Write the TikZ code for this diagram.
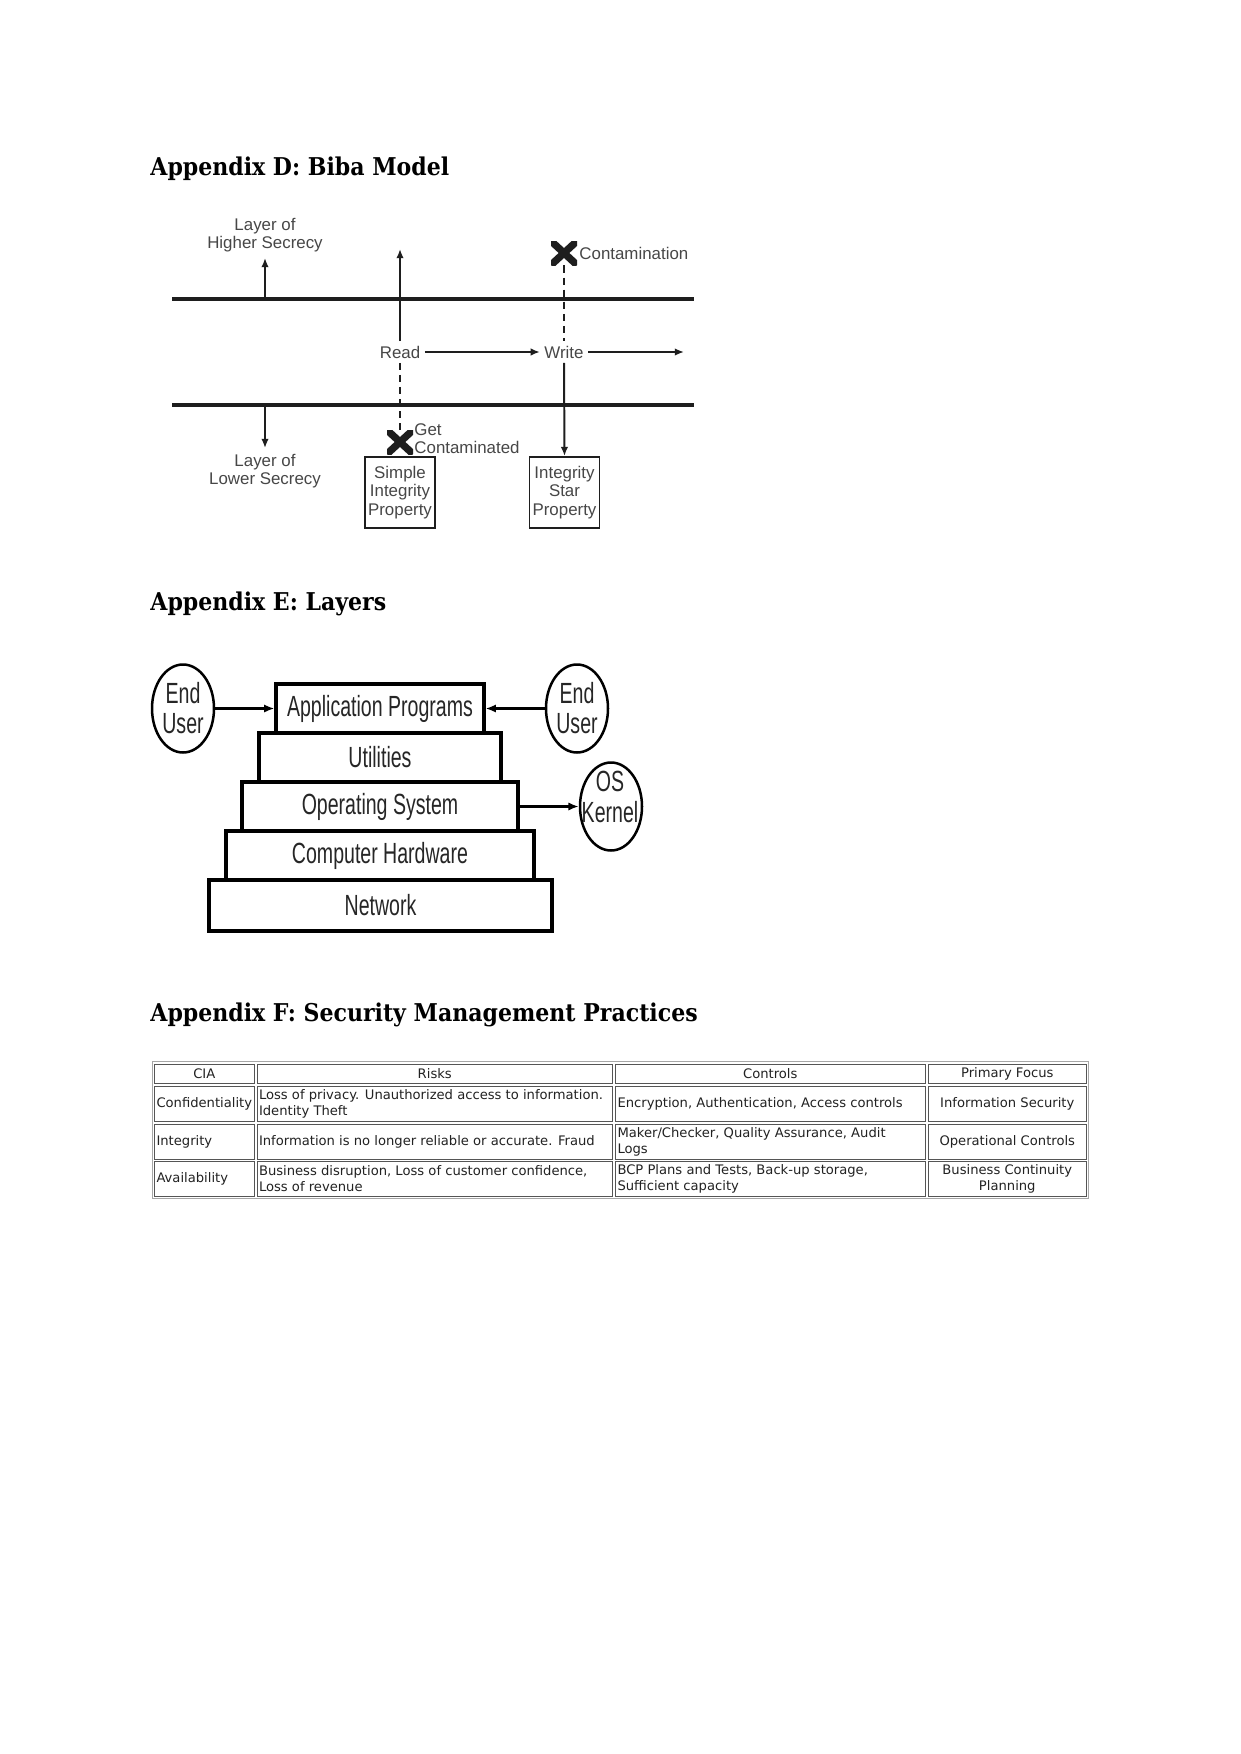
\documentclass[tikz,border=0pt]{standalone}
\usepackage{fontspec}
\setmainfont{DejaVu Sans}
\newfontfamily\headfont[FakeStretch=0.9]{DejaVu Serif}
\newfontfamily\bibafont{Liberation Sans}
\newfontfamily\narrowfont[FakeStretch=0.67]{Liberation Sans}
\newfontfamily\tablefont{DejaVu Sans}
\usetikzlibrary{arrows.meta,shapes.geometric}
\def\u{0.4797pt}
\definecolor{bibagray}{HTML}{474747}
\definecolor{bibaline}{HTML}{1E1E1E}
\definecolor{celline}{HTML}{555555}
\definecolor{tabletext}{HTML}{222222}
\tikzset{
 heading/.style={anchor=base west, inner sep=0pt, font=\headfont\bfseries\fontsize{11.75}{13}\selectfont},
 layerline/.style={draw=bibaline, line width=1.45pt},
 bibaarrow/.style={draw=bibaline, line width=0.95pt, -{Latex[length=4.4pt,width=3.6pt]}},
 bibadash/.style={draw=bibaline, line width=0.9pt, dash pattern=on 3.4pt off 2.4pt},
 bibatext/.style={text=bibagray, font=\bibafont\fontsize{8.1}{8.7}\selectfont, inner sep=2pt},
 bibabox/.style={bibatext, draw=bibaline, line width=0.95pt, align=center, inner sep=0pt, minimum width=70*\u, minimum height=71*\u},
 xmark/.style={inner sep=0pt, minimum width=26*\u, minimum height=24*\u,
   path picture={\draw[line width=3.5pt, bibaline] (path picture bounding box.south west) -- (path picture bounding box.north east) (path picture bounding box.north west) -- (path picture bounding box.south east);}},
 layerbox/.style={draw=black, line width=1.5pt, font=\narrowfont\fontsize{14}{15}\selectfont, inner sep=0pt, minimum height=49*\u, text=black!85},
 userell/.style={ellipse, draw=black, line width=1.2pt, inner sep=0pt, minimum width=62*\u, minimum height=88*\u},
 elltext/.style={font=\narrowfont\fontsize{14}{14.6}\selectfont, align=center, inner sep=0pt, text=black!85},
 layerarrow/.style={draw=black, line width=1pt, -{Latex[length=5pt,width=4pt]}},
 outerbox/.style={draw=gray!70, line width=0.6pt, inner sep=0pt},
 cellbox/.style={draw=celline, line width=0.5pt, inner sep=0pt},
 celltext/.style={text=tabletext, font=\tablefont\fontsize{6.3}{7.7}\selectfont, inner sep=0pt},
}
\newcommand\tcell[5]{\node[cellbox, anchor=north west, minimum width={(#4-#2)*\u}, minimum height={(#5-#3)*\u}] (#1) at (#2,#3) {};}
\newcommand\ltext[3]{\node[celltext, anchor=west, align=left] (#1) at ([xshift=1pt]#2.west) {#3};}
\newcommand\ctext[3]{\node[celltext, align=center] (#1) at (#2.center) {#3};}
\begin{document}
\begin{tikzpicture}[x=0.4797pt, y=-0.4797pt]
\path[use as bounding box, fill=white] (0,0) rectangle (1241,1754);

% headings
\node[heading] (hD) at (150,175) {Appendix D: Biba Model};
\node[heading] (hE) at (150,610) {Appendix E: Layers};
\node[heading] (hF) at (150,1021) {Appendix F: Security Management Practices};

% ---------- Biba model ----------
\coordinate (ulA) at (172,299); \coordinate (ulB) at (694,299);
\coordinate (llA) at (172,405); \coordinate (llB) at (694,405);
\draw[layerline] (ulA) -- (ulB);
\draw[layerline] (llA) -- (llB);

\coordinate (hsBase) at (265,299); \coordinate (hsTip) at (265,258);
\draw[bibaarrow] (hsBase) -- (hsTip);
\node[bibatext, align=center] (hs) at (265,235) {Layer of\\Higher Secrecy};

\coordinate (lsBase) at (265,405); \coordinate (lsTip) at (265,448);
\draw[bibaarrow] (lsBase) -- (lsTip);
\node[bibatext, align=center] (ls) at (265,471.5) {Layer of\\Lower Secrecy};

\node[bibatext] (read) at (400,352) {Read};
\node[bibatext] (write) at (564,352) {Write};
\coordinate (readTop) at (400,249);
\draw[bibaarrow] (read.north) -- (readTop);
\node[xmark] (gc) at (400,442) {};
\draw[bibadash] (read.south) -- (gc.north);
\node[bibatext, align=left, anchor=west, inner sep=0pt] (gctext) at (414,438.5) {Get\\Contaminated};
\node[bibabox] (sip) at (400,492.5) {Simple\\Integrity\\Property};
\draw[bibaarrow] (read.east) -- (write.west);
\coordinate (writeEnd) at (684,352);
\draw[bibaarrow] (write.east) -- (writeEnd);
\node[xmark] (cx) at (564,253) {};
\node[bibatext, anchor=west, inner sep=0pt] (cxtext) at (579,253) {Contamination};
\draw[bibadash] (cx.south) -- (write.north);
\node[bibabox] (isp) at (564.5,492.5) {Integrity\\Star\\Property};
\draw[bibaarrow] (write.south) -- (isp.north);

% ---------- Layers ----------
\node[layerbox, minimum width=208*\u] (app) at (380,708.5) {Application Programs};
\node[layerbox, minimum width=242*\u] (util) at (380,757.5) {Utilities};
\node[layerbox, minimum width=276*\u] (os) at (380,806.5) {Operating System};
\node[layerbox, minimum width=308*\u] (hw) at (380,855.5) {Computer Hardware};
\node[layerbox, minimum width=343*\u, minimum height=51*\u] (net) at (380.5,905.5) {Network};
\node[userell] (eu1) at (183,708.5) {};
\node[userell] (eu2) at (577,708.5) {};
\node[userell] (kern) at (611,806.5) {};
\node[elltext] (eu1t) at (183,708) {End\\User};
\node[elltext] (eu2t) at (577,708) {End\\User};
\node[elltext] (kernt) at (610,797) {OS\\Kernel};
\draw[layerarrow] (eu1) -- (app);
\draw[layerarrow] (eu2) -- (app);
\draw[layerarrow] (os) -- (kern);

% ---------- Table ----------
\node[outerbox, anchor=north west, minimum width=936*\u, minimum height=137*\u] (tbl) at (152,1061) {};
\tcell{h1}{154}{1063.5}{253.5}{1082.5}
\tcell{h2}{256.5}{1063.5}{612}{1082.5}
\tcell{h3}{615}{1063.5}{924.5}{1082.5}
\tcell{h4}{927.5}{1063.5}{1086}{1082.5}
\tcell{a1}{154}{1085.5}{253.5}{1121}
\tcell{a2}{256.5}{1085.5}{612}{1121}
\tcell{a3}{615}{1085.5}{924.5}{1121}
\tcell{a4}{927.5}{1085.5}{1086}{1121}
\tcell{b1}{154}{1123.5}{253.5}{1158.5}
\tcell{b2}{256.5}{1123.5}{612}{1158.5}
\tcell{b3}{615}{1123.5}{924.5}{1158.5}
\tcell{b4}{927.5}{1123.5}{1086}{1158.5}
\tcell{c1}{154}{1161}{253.5}{1196}
\tcell{c2}{256.5}{1161}{612}{1196}
\tcell{c3}{615}{1161}{924.5}{1196}
\tcell{c4}{927.5}{1161}{1086}{1196}

\ctext{h1t}{h1}{CIA}
\ctext{h2t}{h2}{Risks}
\ctext{h3t}{h3}{Controls}
\ctext{h4t}{h4}{Primary Focus}
\ltext{a1t}{a1}{Confidentiality}
\ltext{a2t}{a2}{Loss of privacy. Unauthorized access to information.\\Identity Theft}
\ltext{a3t}{a3}{Encryption, Authentication, Access controls}
\ctext{a4t}{a4}{Information Security}
\ltext{b1t}{b1}{Integrity}
\ltext{b2t}{b2}{Information is no longer reliable or accurate. Fraud}
\ltext{b3t}{b3}{Maker/Checker, Quality Assurance, Audit\\Logs}
\ctext{b4t}{b4}{Operational Controls}
\ltext{c1t}{c1}{Availability}
\ltext{c2t}{c2}{Business disruption, Loss of customer confidence,\\Loss of revenue}
\ltext{c3t}{c3}{BCP Plans and Tests, Back-up storage,\\Sufficient capacity}
\ctext{c4t}{c4}{Business Continuity\\Planning}
\end{tikzpicture}
\end{document}
